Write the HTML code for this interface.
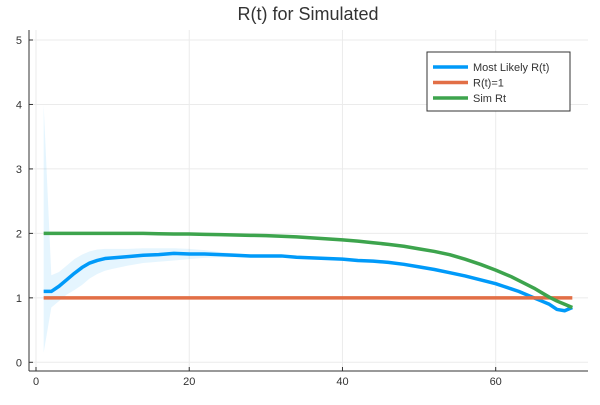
<!DOCTYPE html>
<html><head><meta charset="utf-8"><style>
body{margin:0;background:#fff;width:600px;height:400px;overflow:hidden}
svg{font-family:"Liberation Sans",sans-serif}
</style></head><body>
<svg id="chart" width="600" height="400" xmlns="http://www.w3.org/2000/svg"></svg>
<script>
const tVals=[1,2,3,4,5,6,7,8,9,10,12,14,16,18,20,22,24,26,28,30,32,34,36,38,40,42,44,46,48,50,52,54,56,58,60,61,62,63,64,65,66,67,68,69,70];
const mostLikely=[1.1,1.1,1.18,1.28,1.38,1.47,1.54,1.58,1.61,1.62,1.64,1.66,1.67,1.69,1.68,1.68,1.67,1.66,1.65,1.65,1.65,1.63,1.62,1.61,1.6,1.58,1.57,1.55,1.52,1.48,1.44,1.39,1.34,1.28,1.22,1.18,1.14,1.1,1.05,1.0,0.95,0.9,0.82,0.8,0.85];
const upperBand=[4.0,1.35,1.4,1.5,1.6,1.67,1.72,1.75,1.76,1.76,1.76,1.77,1.77,1.77,1.76,1.74,1.71,1.69,1.67,1.66,1.66,1.64,1.63,1.62,1.61,1.59,1.58,1.56,1.53,1.49,1.45,1.4,1.35,1.29,1.23,1.19,1.15,1.11,1.06,1.01,0.96,0.91,0.83,0.81,0.86];
const lowerBand=[0.15,0.85,0.95,1.05,1.12,1.2,1.3,1.37,1.42,1.45,1.5,1.54,1.56,1.58,1.6,1.62,1.63,1.63,1.63,1.64,1.64,1.62,1.61,1.6,1.59,1.57,1.56,1.54,1.51,1.47,1.43,1.38,1.33,1.27,1.21,1.17,1.13,1.09,1.04,0.99,0.94,0.89,0.81,0.79,0.84];
const simRt=[2,2,2,2,2,2,2,2,2,2,2,2,1.995,1.99,1.99,1.985,1.98,1.975,1.97,1.965,1.955,1.945,1.93,1.915,1.9,1.88,1.855,1.83,1.8,1.76,1.72,1.67,1.6,1.52,1.43,1.38,1.33,1.27,1.21,1.15,1.08,1.01,0.95,0.9,0.85];
const refT=[1,70], refY=[1,1];
const xTicks=[0,20,40,60], yTicks=[0,1,2,3,4,5];
const NS="http://www.w3.org/2000/svg";
const svg=document.getElementById('chart');
const X=v=>36+v*(495.7-36)/60;
const Y=v=>362.3-v*(362.3-40)/5;
function el(tag,attrs,parent){const e=document.createElementNS(NS,tag);for(const k in attrs)e.setAttribute(k,attrs[k]);(parent||svg).appendChild(e);return e;}
// grid
xTicks.forEach(v=>{const g=el('line',{x1:X(v),x2:X(v),y1:30,y2:371,stroke:'#ebebeb','stroke-width':1});

});
yTicks.forEach(v=>{const g=el('line',{x1:29,x2:588,y1:Y(v),y2:Y(v),stroke:'#ebebeb','stroke-width':1});

});
// band
let d='M'+tVals.map((t,i)=>X(t)+','+Y(upperBand[i])).join('L');
for(let i=tVals.length-1;i>=0;i--)d+='L'+X(tVals[i])+','+Y(lowerBand[i]);
const band=el('path',{d:d+'Z',fill:'#009af9','fill-opacity':0.1,stroke:'none'});


function line(xs,ys,color,name){const p=el('path',{d:'M'+xs.map((t,i)=>X(t)+','+Y(ys[i])).join('L'),fill:'none',stroke:color,'stroke-width':3.5,'stroke-linejoin':'round'});

}
line(tVals,mostLikely,'#009af9','most-likely-line');
line(refT,refY,'#e26f46','r-equals-1-line');
line(tVals,simRt,'#3da44d','sim-rt-line');
// axes
el('line',{x1:29,x2:29,y1:30,y2:371,stroke:'#333','stroke-width':1});
el('line',{x1:29,x2:588,y1:371,y2:371,stroke:'#333','stroke-width':1});
xTicks.forEach(v=>{el('line',{x1:X(v),x2:X(v),y1:371,y2:367,stroke:'#333'});
const t=el('text',{x:X(v),y:385,'text-anchor':'middle','font-size':11,fill:'#333'});t.textContent=v;

});
yTicks.forEach(v=>{el('line',{x1:29,x2:33,y1:Y(v),y2:Y(v),stroke:'#333'});
const t=el('text',{x:22,y:Y(v)+4,'text-anchor':'end','font-size':11,fill:'#333'});t.textContent=v;

});
const title=el('text',{x:308,y:20,'text-anchor':'middle','font-size':18,fill:'#333'});title.textContent='R(t) for Simulated';


// legend
const lg=el('g',{});


el('rect',{x:427,y:52,width:143,height:59,fill:'#fff',stroke:'#333','stroke-width':1},lg);
[['Most Likely R(t)','#009af9'],['R(t)=1','#e26f46'],['Sim Rt','#3da44d']].forEach((e,i)=>{
const yy=67+i*15.5;
el('line',{x1:433,x2:468,y1:yy,y2:yy,stroke:e[1],'stroke-width':3.5},lg);
const t=el('text',{x:473,y:yy+4,'font-size':11,fill:'#333'},lg);t.textContent=e[0];

});
</script>
</body></html>
